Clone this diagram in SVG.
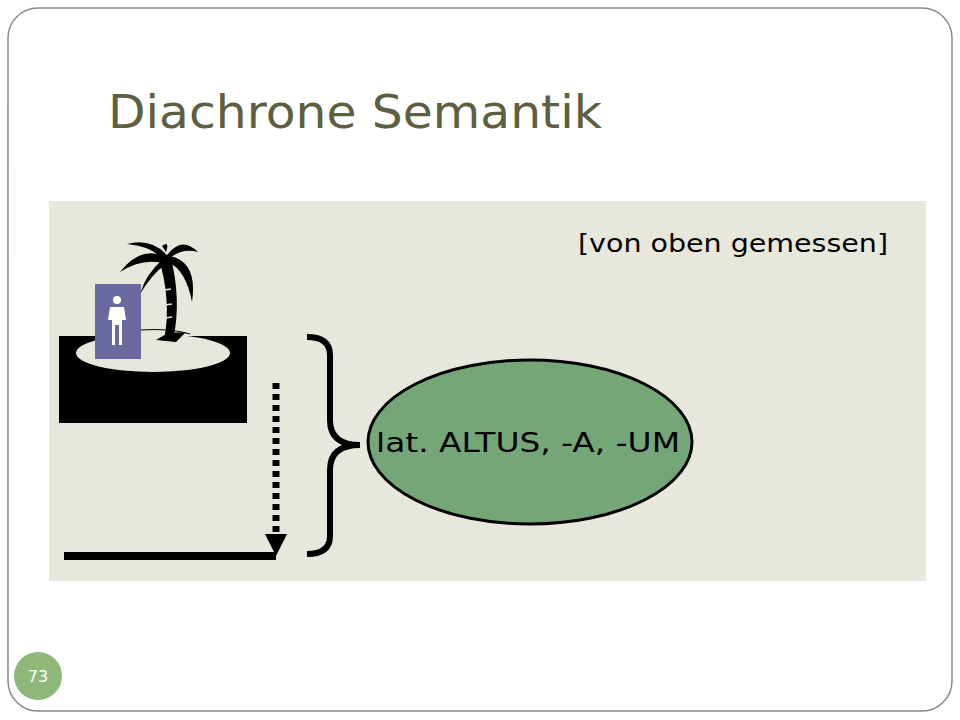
<svg xmlns="http://www.w3.org/2000/svg" width="960" height="720" viewBox="0 0 960 720">
<style>
.t{font-family:"DejaVu Sans","Liberation Sans",sans-serif}
</style>
<rect width="960" height="720" fill="#fff"/>
<rect x="8" y="8" width="944" height="703" rx="30" fill="#fff" stroke="#8a8a8a" stroke-width="1.5"/>
<text class="t" x="108" y="128" font-size="46" fill="#5e5e40" textLength="494" lengthAdjust="spacingAndGlyphs">Diachrone Semantik</text>
<rect x="49" y="201" width="877" height="380" fill="#e8e7dc"/>
<text class="t" x="578" y="252" font-size="24" fill="#000" textLength="310" lengthAdjust="spacingAndGlyphs">[von oben gemessen]</text>
<g id="island">
<rect x="59" y="336" width="188" height="87" fill="#000"/>
<ellipse cx="153" cy="353" rx="77" ry="19" fill="#e8e7dc"/>
<path d="M141 330 Q170 328 190 334" stroke="#000" stroke-width="1" fill="none"/>
<path d="M158 256 Q172 300 164 340 L173 340 Q182 300 170 254 Z" fill="#000"/>
<path d="M156 340 L168 333 L186 332 L176 342 Z" fill="#000"/>
<path d="M164 256 Q140 246 120 272 Q142 258 162 263 Z M166 254 Q150 238 127 244 Q150 246 162 258 Z M166 252 Q170 240 162 246 Z M168 254 Q182 236 198 252 Q182 248 170 258 Z M170 256 Q198 262 192 302 Q186 270 168 262 Z M162 260 Q146 274 140 294 Q152 274 166 264 Z" fill="#000"/>
<g stroke="#e8e7dc" stroke-width="1.5"><line x1="164" y1="290" x2="171" y2="289"/><line x1="165" y1="305" x2="172" y2="304"/><line x1="165" y1="318" x2="172" y2="317"/></g>
</g>
<g id="person">
<rect x="95" y="284" width="46" height="75" fill="#6a6aa0"/>
<circle cx="117" cy="300" r="4" fill="#fff"/>
<path d="M110 307 H124 L126 320 H122 V345 H119 V325 H115 V345 H112 V320 H108 Z" fill="#fff"/>
</g>
<g id="connectors">
<line x1="64" y1="556" x2="276" y2="556" stroke="#000" stroke-width="8"/>
<line x1="276" y1="383" x2="276" y2="536" stroke="#000" stroke-width="7" stroke-dasharray="6,5"/>
<path d="M265 534 L287 534 L276 556 Z" fill="#000"/>
<path d="M307 337 Q330 337 330 355 V420 Q330 445 360 445 Q330 445 330 470 V536 Q330 554 307 554" fill="none" stroke="#000" stroke-width="6"/>
</g>
<g id="node">
<ellipse cx="530" cy="442" rx="162" ry="82" fill="#74a678" stroke="#000" stroke-width="3"/>
<text class="t" x="376" y="452" font-size="27" fill="#000" textLength="304" lengthAdjust="spacingAndGlyphs">lat. ALTUS, -A, -UM</text>
</g>
<circle cx="38" cy="676" r="24" fill="#8db87a"/>
<text class="t" x="38" y="682" font-size="16" fill="#fff" text-anchor="middle">73</text>
</svg>
